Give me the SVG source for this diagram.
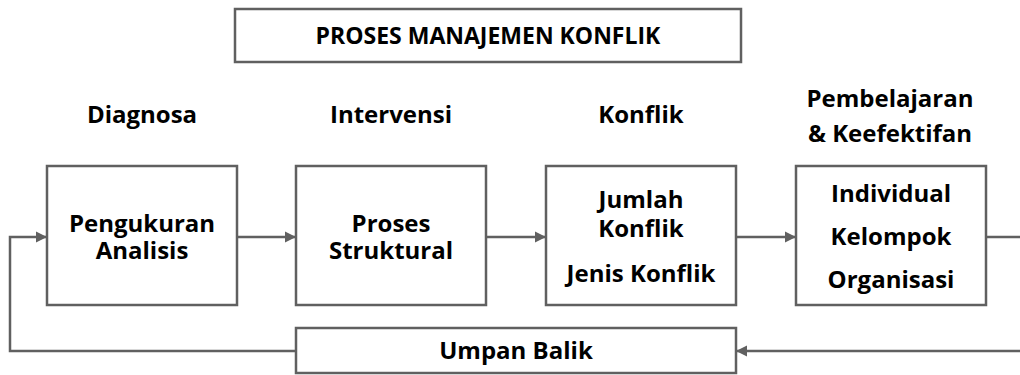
<svg xmlns="http://www.w3.org/2000/svg" width="1020" height="375" viewBox="0 0 1020 375">
<style>
.box{fill:#fff;stroke:#606060;stroke-width:2.5}
.t{font-family:"Open Sans",sans-serif;font-weight:bold;font-size:24px;fill:#000;text-anchor:middle}
.c{fill:none;stroke:#606060;stroke-width:2.5}
</style>
<defs>
<marker id="ah" viewBox="0 0 10 10" refX="10" refY="5" markerWidth="4.5" markerHeight="4.5" markerUnits="strokeWidth" orient="auto">
<path d="M0,0 L10,5 L0,10 z" fill="#606060"/>
</marker>
</defs>
<rect width="1020" height="375" fill="#fff"/>
<g id="title">
<rect class="box" x="235" y="9" width="506" height="53"/>
<text class="t" x="488" y="44" style="font-size:23px">PROSES MANAJEMEN KONFLIK</text>
</g>
<g id="labels">
<text class="t" x="142" y="123">Diagnosa</text>
<text class="t" x="391" y="123">Intervensi</text>
<text class="t" x="641" y="123">Konflik</text>
<text class="t" x="890" y="107">Pembelajaran</text>
<text class="t" x="890" y="142">&amp; Keefektifan</text>
</g>
<g id="connectors">
<line class="c" x1="237" y1="237" x2="296" y2="237" marker-end="url(#ah)"/>
<line class="c" x1="486" y1="237" x2="546" y2="237" marker-end="url(#ah)"/>
<line class="c" x1="736" y1="237" x2="796" y2="237" marker-end="url(#ah)"/>
<line class="c" x1="986" y1="237" x2="1020" y2="237"/>
<line class="c" x1="1020" y1="351" x2="736" y2="351" marker-end="url(#ah)"/>
<polyline class="c" points="296,351 10,351 10,237 47,237" marker-end="url(#ah)"/>
</g>
<g id="n1">
<rect class="box" x="47" y="166" width="190" height="139"/>
<text class="t" x="142" y="232">Pengukuran</text>
<text class="t" x="142" y="259">Analisis</text>
</g>
<g id="n2">
<rect class="box" x="296" y="166" width="190" height="139"/>
<text class="t" x="391" y="232">Proses</text>
<text class="t" x="391" y="259">Struktural</text>
</g>
<g id="n3">
<rect class="box" x="546" y="166" width="190" height="139"/>
<text class="t" x="641" y="208">Jumlah</text>
<text class="t" x="641" y="237">Konflik</text>
<text class="t" x="641" y="282">Jenis Konflik</text>
</g>
<g id="n4">
<rect class="box" x="796" y="166" width="190" height="139"/>
<text class="t" x="891" y="202">Individual</text>
<text class="t" x="891" y="245">Kelompok</text>
<text class="t" x="891" y="288">Organisasi</text>
</g>
<g id="n5">
<rect class="box" x="296" y="328" width="440" height="45"/>
<text class="t" x="516" y="359">Umpan Balik</text>
</g>
</svg>
